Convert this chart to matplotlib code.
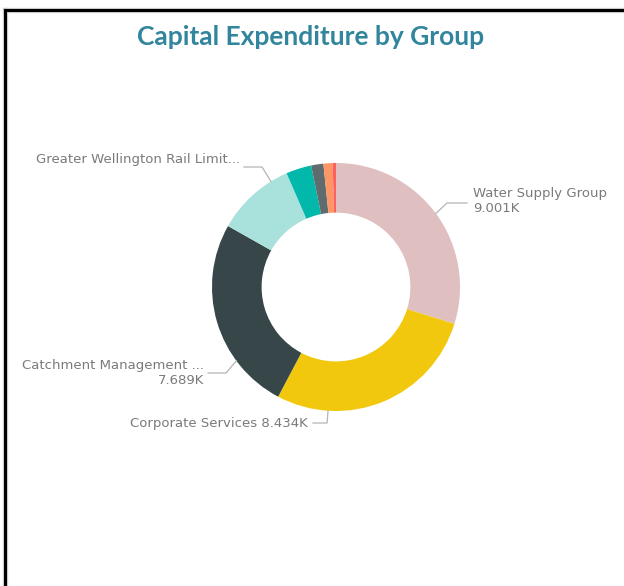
import matplotlib.pyplot as plt
from matplotlib.lines import Line2D
import numpy as np

# capital expenditure per group, in thousands
groups = ['Water Supply Group', 'Corporate Services', 'Catchment Management ...',
          'Greater Wellington Rail Limit...', 'Other 1', 'Other 2', 'Other 3', 'Other 4']
values = [9.001, 8.434, 7.689, 3.11, 1.00, 0.48, 0.36, 0.13]
colors = ['#DFBFBF', '#F2C80F', '#374649', '#A9E1DD', '#01B8AA', '#5F6B6D', '#FE9666', '#FD625E']

W, H = 624, 586
cx, cy, R = 336, H - 287, 124

fig = plt.figure(figsize=(W / 100, H / 100), dpi=100)
ax = fig.add_axes([0, 0, 1, 1])

wedges, _ = ax.pie(values, colors=colors, startangle=90, counterclock=False,
                   radius=R, center=(cx, cy),
                   wedgeprops=dict(width=R * 0.4, edgecolor='none'))
ax.set_xlim(0, W)
ax.set_ylim(0, H)
ax.set_aspect('equal')
ax.axis('off')

# frame (top and left edges)
ax.add_line(Line2D([5, 5], [0, H - 10], color='#d0d0d0', lw=3.8))
ax.add_line(Line2D([5, W], [H - 10, H - 10], color='#d0d0d0', lw=3.8))
ax.add_line(Line2D([5, 5], [0, H - 10], color='black', lw=2.2))
ax.add_line(Line2D([5, W], [H - 10, H - 10], color='black', lw=2.2))

ax.text(311, H - 37, 'Capital Expenditure by Group', ha='center', va='center',
        fontsize=19, fontweight='bold', color='#31859C', family='Lato')

lab_font = dict(fontsize=9.5, color='#7a7a7a', family=['Liberation Sans Narrow', 'DejaVu Sans'])
line_kw = dict(color='#b4b4b4', lw=0.9)


def attach(i, f):
    # point on outer edge, fraction f of the way clockwise through wedge i
    w = wedges[i]
    a = np.radians(w.theta2 - f * (w.theta2 - w.theta1))
    return cx + R * np.cos(a), cy + R * np.sin(a)


# Water Supply Group
x0, y0 = attach(0, 0.5)
ax.plot([x0, 447, 467], [y0, H - 203, H - 203], **line_kw)
ax.text(473, H - 201, f'{groups[0]}\n{values[0]:.3f}K', ha='left', va='center',
        linespacing=1.15, **lab_font)

# Corporate Services
x0, y0 = attach(1, 0.76)
ax.plot([x0, x0 - 1, 313], [y0, H - 423, H - 423], **line_kw)
ax.text(308, H - 423, f'{groups[1]} {values[1]:.3f}K', ha='right', va='center', **lab_font)

# Catchment Management
x0, y0 = attach(2, 0.28)
ax.plot([x0, 226, 208], [y0, H - 373, H - 373], **line_kw)
ax.text(204, H - 373, f'{groups[2]}\n{values[2]:.3f}K', ha='right', va='center',
        multialignment='right', linespacing=1.15, **lab_font)

# Greater Wellington Rail
x0, y0 = attach(3, 0.78)
ax.plot([x0, 262, 244], [y0, H - 167, H - 167], **line_kw)
ax.text(240, H - 160, groups[3], ha='right', va='center', **lab_font)

fig.savefig('out.png', dpi=100)
